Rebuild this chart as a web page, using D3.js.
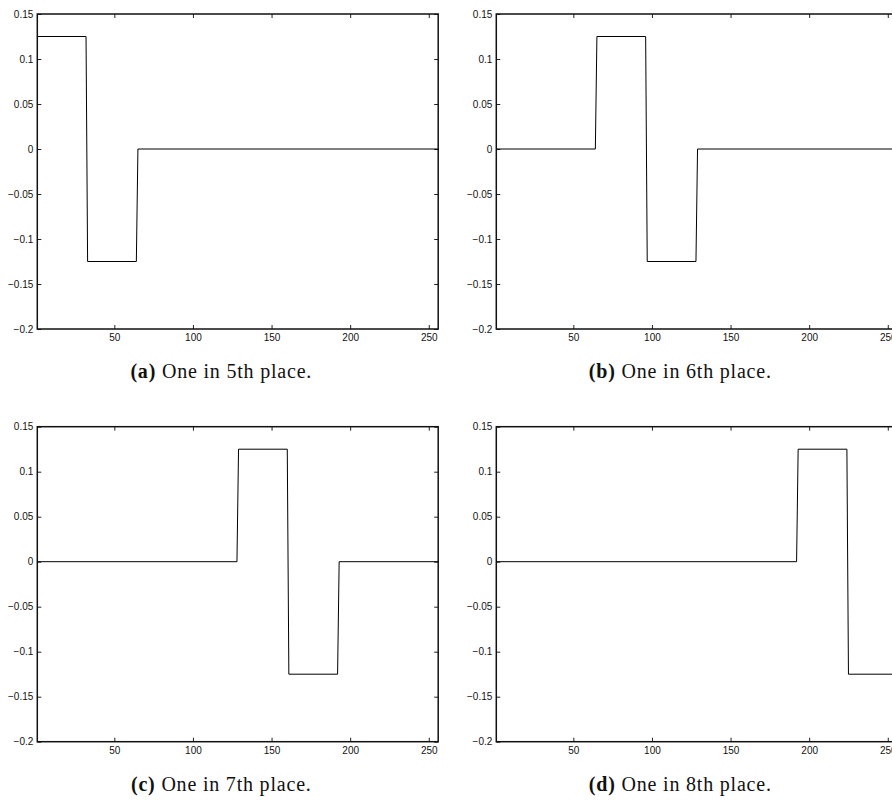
<!DOCTYPE html>
<html>
<head>
<meta charset="utf-8">
<script src="https://cdn.jsdelivr.net/npm/d3@7"></script>
<style>
  html, body { margin: 0; padding: 0; background: #fff; }
  svg { display: block; }
  .tick text { font-family: "Liberation Sans", Arial, sans-serif; font-size: 10px; fill: #111; }
  .caption { font-family: "Liberation Serif", "DejaVu Serif", serif; font-size: 20px; letter-spacing: 0.8px; fill: #111; }
</style>
</head>
<body>
<svg id="chart" width="892" height="800"></svg>
<script>
// Tick values shared by all four panels
const xTicks = [50, 100, 150, 200, 250];
const yTicks = [0.15, 0.1, 0.05, 0, -0.05, -0.1, -0.15, -0.2];
const xDomain = [1, 256];
const yDomain = [-0.2, 0.15];

// Breakpoints of each Haar step function (sample index, value)
const xA = [1, 32, 33, 64, 65, 256];
const yA = [0.125, 0.125, -0.125, -0.125, 0, 0];

const xB = [1, 64, 65, 96, 97, 128, 129, 256];
const yB = [0, 0, 0.125, 0.125, -0.125, -0.125, 0, 0];

const xC = [1, 128, 129, 160, 161, 192, 193, 256];
const yC = [0, 0, 0.125, 0.125, -0.125, -0.125, 0, 0];

const xD = [1, 192, 193, 224, 225, 256];
const yD = [0, 0, 0.125, 0.125, -0.125, -0.125];

const labels = ["(a)", "(b)", "(c)", "(d)"];
const captions = [" One in 5th place.", " One in 6th place.", " One in 7th place.", " One in 8th place."];

const panels = [
  { xs: xA, ys: yA, left: 37.3, top: 14 },
  { xs: xB, ys: yB, left: 496.3, top: 14 },
  { xs: xC, ys: yC, left: 37.3, top: 426.7 },
  { xs: xD, ys: yD, left: 496.3, top: 426.7 }
];

const W = 400.9, H = 315, TICK = 4;
const svg = d3.select("#chart");
svg.append("rect").attr("width", 892).attr("height", 800).attr("fill", "#fff");

const fmt = v => {
  const s = String(Math.round(v * 1000) / 1000);
  return s.replace("-", "\u2212");
};

panels.forEach((p, i) => {
  const x = d3.scaleLinear().domain(xDomain).range([0, W]);
  const y = d3.scaleLinear().domain(yDomain).range([H, 0]);
  const g = svg.append("g").attr("transform", `translate(${p.left},${p.top})`);

  // bottom axis with labels, ticks pointing inward
  const gb = g.append("g").attr("transform", `translate(0,${H})`)
    .call(d3.axisBottom(x).tickValues(xTicks).tickSizeInner(-TICK).tickSizeOuter(0).tickPadding(5).tickFormat(d => d));
  // top axis, ticks only
  const gt = g.append("g")
    .call(d3.axisTop(x).tickValues(xTicks).tickSizeInner(-TICK).tickSizeOuter(0).tickFormat(""));
  // left axis with labels
  const gl = g.append("g")
    .call(d3.axisLeft(y).tickValues(yTicks).tickSizeInner(-TICK).tickSizeOuter(0).tickPadding(4).tickFormat(fmt));
  // right axis, ticks only
  const gr = g.append("g").attr("transform", `translate(${W},0)`)
    .call(d3.axisRight(y).tickValues(yTicks).tickSizeInner(-TICK).tickSizeOuter(0).tickFormat(""));

  [gb, gt, gl, gr].forEach(a => {
    a.select(".domain").remove();
    a.selectAll(".tick line").attr("stroke", "#222").attr("stroke-width", 1);
    a.selectAll(".tick text").attr("fill", "#111");
  });

  // axes box
  g.append("rect").attr("x", 0).attr("y", 0).attr("width", W).attr("height", H)
    .attr("fill", "none").attr("stroke", "#111").attr("stroke-width", 1.5);

  // step function
  const pts = p.xs.map((v, k) => [v, p.ys[k]]);
  g.append("path")
    .datum(pts)
    .attr("fill", "none")
    .attr("stroke", "#000")
    .attr("stroke-width", 1)
    .attr("d", d3.line().x(d => x(d[0])).y(d => y(d[1])));

  // caption
  const t = g.append("text").attr("class", "caption")
    .attr("x", 184).attr("y", H + 49).attr("text-anchor", "middle");
  t.append("tspan").attr("font-weight", "bold").text(labels[i]);
  t.append("tspan").text(captions[i]);
});
</script>
</body>
</html>
